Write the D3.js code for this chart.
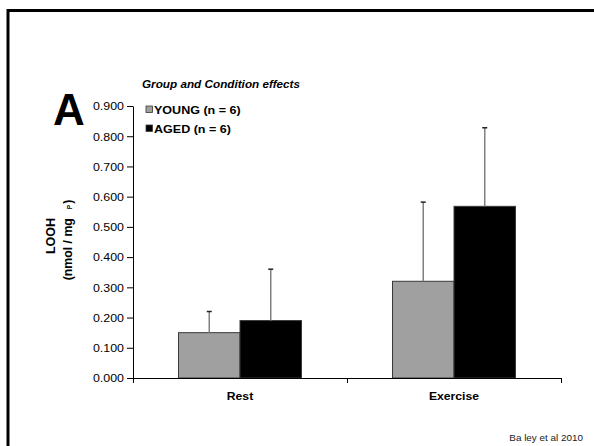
<!DOCTYPE html>
<html>
<head>
<meta charset="utf-8">
<script src="https://cdn.jsdelivr.net/npm/d3@7"></script>
<style>
	body { margin: 0; background: #fff; }
	svg { display: block; font-family: 'Liberation Sans', Arial, sans-serif; }
</style>
</head>
<body>
<svg id="chart"></svg>
<script>
// data
const conditions = ['Rest', 'Exercise']
const groups = ['YOUNG (n = 6)', 'AGED (n = 6)']
const youngMeans = [0.150, 0.320]
const youngErr = [0.070, 0.262]
const agedMeans = [0.190, 0.568]
const agedErr = [0.170, 0.260]
const yTicks = [0, 0.1, 0.2, 0.3, 0.4, 0.5, 0.6, 0.7, 0.8, 0.9]

const groupColors = ['#a0a0a0', '#000000']
const series = [
	{name: groups[0], means: youngMeans, err: youngErr, color: groupColors[0]},
	{name: groups[1], means: agedMeans, err: agedErr, color: groupColors[1]}
]

const width = 594, height = 446
// text on the slide is rendered a bit wide
const sx = 1.15

const svg = d3.select('#chart')
	.attr('width', width)
	.attr('height', height)

svg.append('rect')
	.attr('width', width)
	.attr('height', height)
	.attr('fill', '#fff')

// slide frame (runs off right and bottom)
svg.append('rect')
	.attr('x', 8)
	.attr('y', 10.5)
	.attr('width', 620)
	.attr('height', 460)
	.attr('fill', 'none')
	.attr('stroke', '#000')
	.attr('stroke-width', 3)

const plot = {left: 133, right: 561, top: 106, bottom: 378}

const y = d3.scaleLinear()
	.domain([0, 0.9])
	.range([plot.bottom, plot.top])

const x0 = d3.scaleBand()
	.domain(conditions)
	.range([plot.left, plot.right])
	.padding(0)

const x1 = d3.scaleBand()
	.domain(groups)
	.range([0, x0.bandwidth()])
	.paddingInner(0)
	.paddingOuter(0.74)

// bars
const bars = svg.append('g')
series.forEach(s => {
	bars.append('g')
		.selectAll('rect')
		.data(conditions)
		.join('rect')
			.attr('x', (d, i) => x0(d) + x1(s.name))
			.attr('y', (d, i) => y(s.means[i]))
			.attr('width', x1.bandwidth())
			.attr('height', (d, i) => y(0) - y(s.means[i]))
			.attr('fill', s.color)
			.attr('stroke', '#3a3a3a')
			.attr('stroke-width', 1)
})

// error bars, upper half only
const errs = svg.append('g')
series.forEach(s => {
	const g = errs.append('g')
	conditions.forEach((c, i) => {
		const cx = x0(c) + x1(s.name) + x1.bandwidth() / 2
		g.append('line')
			.attr('x1', cx).attr('x2', cx)
			.attr('y1', y(s.means[i]))
			.attr('y2', y(s.means[i] + s.err[i]))
			.attr('stroke', '#808080')
			.attr('stroke-width', 1.5)
		g.append('line')
			.attr('x1', cx - 2.5).attr('x2', cx + 2.5)
			.attr('y1', y(s.means[i] + s.err[i]))
			.attr('y2', y(s.means[i] + s.err[i]))
			.attr('stroke', '#222')
			.attr('stroke-width', 1.5)
	})
})

// y axis
const yAxis = svg.append('g')
	.attr('transform', 'translate(' + plot.left + ',0)')
	.call(d3.axisLeft(y).tickValues(yTicks).tickFormat(d3.format('.3f')).tickSize(6).tickSizeOuter(0))
yAxis.select('.domain').attr('stroke', '#000')
yAxis.selectAll('.tick line').attr('stroke', '#000')
yAxis.selectAll('.tick text')
	.attr('x', -9 / sx)
	.attr('dy', '0.35em')
	.attr('transform', 'scale(' + sx + ',1)')
	.style('font-size', '10.8px')
	.attr('fill', '#000')

// x axis: ticks at the category boundaries
const xb = d3.scaleLinear().domain([0, conditions.length]).range([plot.left, plot.right])
const xAxis = svg.append('g')
	.attr('transform', 'translate(0,' + plot.bottom + ')')
	.call(d3.axisBottom(xb).ticks(conditions.length).tickFormat('').tickSize(5).tickSizeOuter(0))
xAxis.select('.domain').attr('stroke', '#000')
xAxis.selectAll('.tick line').attr('stroke', '#000')

svg.append('g')
	.selectAll('text')
	.data(conditions)
	.join('text')
		.attr('transform', d => 'translate(' + (x0(d) + x0.bandwidth() / 2) + ',400) scale(' + sx + ',1)')
		.attr('text-anchor', 'middle')
		.style('font-size', '10.6px')
		.style('font-weight', 'bold')
		.text(d => d)

// y axis title
svg.append('text')
	.attr('transform', 'translate(54.5,236) rotate(-90)')
	.attr('text-anchor', 'middle')
	.style('font-size', '12.5px')
	.style('font-weight', 'bold')
	.text('LOOH')

const unit = svg.append('text')
	.attr('transform', 'translate(72,240) rotate(-90)')
	.attr('text-anchor', 'middle')
	.style('font-size', '12.3px')
	.style('font-weight', 'bold')
unit.append('tspan').text('(nmol / mg')
unit.append('tspan').attr('dx', 9).style('font-size', '6.5px').text('P')
unit.append('tspan').attr('dx', 1).text(')')

// panel letter
svg.append('text')
	.attr('x', 53)
	.attr('y', 124.5)
	.style('font-size', '44px')
	.style('font-weight', 'bold')
	.text('A')

// title
svg.append('text')
	.attr('transform', 'translate(142,88) scale(' + sx + ',1)')
	.style('font-size', '10.2px')
	.style('font-weight', 'bold')
	.style('font-style', 'italic')
	.text('Group and Condition effects')

// legend
const legend = svg.append('g')
	.selectAll('g')
	.data(series)
	.join('g')
		.attr('transform', (d, i) => 'translate(146,' + (106 + i * 19) + ')')
legend.append('rect')
	.attr('width', 6.5)
	.attr('height', 6.5)
	.attr('fill', d => d.color)
	.attr('stroke', '#3a3a3a')
	.attr('stroke-width', 0.8)
legend.append('text')
	.attr('transform', 'translate(8,7.8) scale(' + sx + ',1)')
	.style('font-size', '10.9px')
	.style('font-weight', 'bold')
	.text(d => d.name)

// source note
svg.append('text')
	.attr('transform', 'translate(583,441) scale(1.1,1)')
	.attr('text-anchor', 'end')
	.style('font-size', '9px')
	.attr('fill', '#222')
	.text('Ba ley et al 2010')
</script>
</body>
</html>
